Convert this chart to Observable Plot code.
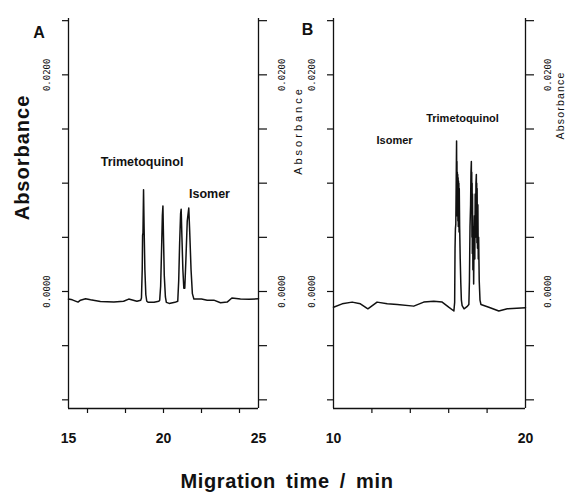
<!DOCTYPE html>
<html>
<head>
<meta charset="utf-8">
<script src="https://cdn.jsdelivr.net/npm/d3@7"></script>
<script src="https://cdn.jsdelivr.net/npm/@observablehq/plot@0.6"></script>
<style>
  html, body { margin: 0; padding: 0; background: white; }
  #wrap { position: relative; width: 567px; height: 494px; overflow: hidden; font-family: "Liberation Sans", Arial, sans-serif; }
  #pA { position: absolute; left: 0; top: 0; }
  #pB { position: absolute; left: 300px; top: 0; }
  #xlab { position: absolute; left: 287px; top: 471px; transform: translateX(-50%); font-size: 20px; line-height: 20px; font-weight: bold; letter-spacing: 0.6px; word-spacing: 4px; white-space: nowrap; color: #111; }
</style>
</head>
<body>
<div id="wrap">
  <div id="pA"></div>
  <div id="pB"></div>
  <div id="xlab">Migration time / min</div>
</div>
<script>
// ---------- data ----------
const yDomain = [-0.0108, 0.0252];
const yTicks = [-0.01, -0.005, 0, 0.005, 0.01, 0.015, 0.02, 0.025];
const yLabelled = [0, 0.02];

// Panel A (migration time 15–25 min)
const xDomainA = [15, 25];
const xMinorA = [16, 18, 20, 22, 24];
const xLabelsA = [15, 20, 25];
const timeA = [15.0, 15.2, 15.5, 15.63, 15.9, 16.16, 16.68, 17.39, 17.9, 18.17, 18.6, 18.8,
  18.84, 18.88, 18.9, 18.92, 18.95, 18.98, 19.02, 19.07, 19.12, 19.2, 19.5, 19.75,
  19.8, 19.85, 19.9, 19.94, 19.97, 20.0, 20.04, 20.1, 20.15, 20.3, 20.6,
  20.75, 20.8, 20.85, 20.9, 20.93, 20.97, 21.02, 21.07, 21.12, 21.18, 21.25, 21.33, 21.38, 21.45, 21.52,
  21.6, 22.0, 22.3, 22.65, 23.0, 23.35, 23.6, 24.05, 24.5, 25.0];
const absA = [-0.0007, -0.00077, -0.00098, -0.0008, -0.00067, -0.00077, -0.00092, -0.00098, -0.0009, -0.0007, -0.0009, -0.0008,
  -0.0006, 0.0020, 0.0052, 0.0054, 0.0094, 0.0058, 0.0020, -0.0003, -0.0009, -0.0010, -0.0010, -0.0009,
  -0.0008, 0.0005, 0.0040, 0.0070, 0.0079, 0.0050, 0.0015, -0.0005, -0.0010, -0.0011, -0.0010,
  -0.0009, 0.0010, 0.0045, 0.0072, 0.0076, 0.0050, 0.0020, 0.0003, 0.0003, 0.0030, 0.0065, 0.0077, 0.0055, 0.0020, -0.0002,
  -0.0007, -0.0007, -0.0008, -0.0008, -0.00104, -0.00098, -0.0006, -0.0007, -0.00072, -0.00067];
const annotA = ["Trimetoquinol", "Isomer"];
const annotTimeA = [18.87, 22.42];
const annotAbsA = [0.0120, 0.0090];

// Panel B (migration time 10–20 min)
const xDomainB = [10, 20];
const xMinorB = [12, 14, 16, 18];
const xLabelsB = [10, 20];
const timeB = [10.0, 10.45, 10.97, 11.4, 11.79, 12.27, 12.8, 13.32, 14.18, 14.7, 15.22, 15.66, 16.0, 16.27,
  16.31, 16.33, 16.35, 16.37, 16.39, 16.41, 16.42, 16.43, 16.44, 16.45, 16.46, 16.47, 16.48, 16.49, 16.5,
  16.51, 16.52, 16.53, 16.54, 16.55, 16.57, 16.6, 16.63, 16.66, 16.7, 16.8, 16.95, 17.05,
  17.08, 17.11, 17.14, 17.16, 17.18, 17.19, 17.2, 17.21, 17.22, 17.23, 17.24, 17.26, 17.28, 17.3, 17.32,
  17.34, 17.36, 17.38, 17.4, 17.42, 17.44, 17.45, 17.46, 17.47, 17.48, 17.5, 17.52, 17.54, 17.56, 17.59,
  17.63, 17.68, 18.09, 18.61, 19.05, 20.0];
const absB = [-0.00145, -0.00114, -0.00098, -0.00114, -0.0016, -0.00098, -0.00114, -0.0012, -0.00135, -0.00098, -0.00089, -0.00098, -0.00145, -0.0018,
  -0.0010, 0.0040, 0.0058, 0.0062, 0.0100, 0.0139, 0.0090, 0.0120, 0.0070, 0.0110, 0.0075, 0.0108, 0.0065, 0.0105, 0.0060,
  0.0102, 0.0070, 0.0100, 0.0055, 0.0095, 0.0060, 0.0030, 0.0008, -0.0008, -0.0013, -0.0016, -0.0014, -0.0012,
  0.0010, 0.0060, 0.0080, 0.0110, 0.0120, 0.0075, 0.0110, 0.0050, 0.0100, 0.0035, 0.0090, 0.0020, 0.0060, 0.0007, 0.0050,
  0.0070, 0.0030, 0.0090, 0.0050, 0.0100, 0.0108, 0.0060, 0.0100, 0.0045, 0.0095, 0.0040, 0.0080, 0.0030, 0.0050, 0.0010,
  -0.0008, -0.0012, -0.00145, -0.0018, -0.0016, -0.0015];
const annotB = ["Trimetoquinol", "Isomer"];
const annotTimeB = [16.72, 13.18];
const annotAbsB = [0.0160, 0.0139];

const yAxisTitle = "Absorbance";

// ---------- drawing ----------
const seriesA = timeA.map((t, i) => ({t, a: absA[i]}));
const seriesB = timeB.map((t, i) => ({t, a: absB[i]}));
const labA = annotA.map((s, i) => ({s, t: annotTimeA[i], a: annotAbsA[i]}));
const labB = annotB.map((s, i) => ({s, t: annotTimeB[i], a: annotAbsB[i]}));

const fmtY = d => yLabelled.some(v => Math.abs(v - d) < 1e-9) ? d3.format(".4f")(d) : "";
const mono = "'DejaVu Sans Mono', 'Liberation Mono', monospace";
const sans = "'Liberation Sans', Arial, sans-serif";

function panel({width, marginLeft, xDomain, xMinor, xLabels, series, labels, letter, letterDx, letterDy,
                 annotSize, rightPad, rightTitleDx, rightTitleDy, rightTitleSize, bigTitle}) {
  const marks = [
    Plot.ruleX(xDomain, {stroke: "#111", strokeWidth: 1.3}),
    Plot.ruleY([yDomain[0]], {stroke: "#111", strokeWidth: 1.3}),
    Plot.axisY(yTicks, {anchor: "left", label: null, tickSize: 6, tickPadding: 15, tickRotate: -90,
      lineAnchor: "middle", tickFormat: fmtY, fontFamily: mono, fontSize: 9, strokeWidth: 1.2}),
    Plot.axisY(yTicks, {anchor: "right", label: null, tickSize: 8, tickPadding: rightPad, tickRotate: -90,
      lineAnchor: "middle", tickFormat: fmtY, fontFamily: mono, fontSize: 9, strokeWidth: 1.2}),
    Plot.axisX(xMinor, {anchor: "bottom", label: null, tickSize: 5, tickFormat: () => "", strokeWidth: 1.2}),
    Plot.axisX(xLabels, {anchor: "bottom", label: null, tickSize: 0, tickPadding: 25,
      fontWeight: "bold", fontSize: 14, fontFamily: sans}),
    Plot.line(series, {x: "t", y: "a", stroke: "#111", strokeWidth: 1.5}),
    Plot.text(labels, {x: "t", y: "a", text: "s", fontWeight: "bold", fontSize: annotSize, fontFamily: sans, fill: "#111"}),
    Plot.text([letter], {frameAnchor: "top-left", dx: letterDx, dy: letterDy, textAnchor: "middle", lineAnchor: "bottom",
      fontSize: 16, fontWeight: "bold", fontFamily: sans, fill: "#111"}),
    Plot.text([yAxisTitle], {frameAnchor: "right", dx: rightTitleDx, dy: rightTitleDy, rotate: -90,
      textAnchor: "middle", lineAnchor: "middle",
      fontSize: rightTitleSize, fontFamily: sans, fill: "#111"})
  ];
  if (bigTitle) {
    marks.push(Plot.text([yAxisTitle], {frameAnchor: "left", dx: -46, dy: -56, rotate: -90,
      textAnchor: "middle", lineAnchor: "middle",
      fontSize: 20, fontWeight: "bold", fontFamily: sans, fill: "#111"}));
  }
  return Plot.plot({
    width, height: 460,
    marginLeft, marginRight: 42, marginTop: 18, marginBottom: 52,
    x: {domain: xDomain},
    y: {domain: yDomain},
    style: {fontFamily: sans, background: "transparent", overflow: "visible", color: "#111"},
    marks
  });
}

const svgA = panel({width: 300, marginLeft: 68, xDomain: xDomainA, xMinor: xMinorA, xLabels: xLabelsA,
  series: seriesA, labels: labA, letter: "A", letterDx: -29.5, letterDy: 19, annotSize: 12.5,
  rightPad: 16, rightTitleDx: 40, rightTitleDy: -83, rightTitleSize: 11, bigTitle: true});
const svgB = panel({width: 267, marginLeft: 33, xDomain: xDomainB, xMinor: xMinorB, xLabels: xLabelsB,
  series: seriesB, labels: labB, letter: "B", letterDx: -26, letterDy: 16, annotSize: 11,
  rightPad: 15, rightTitleDx: 35, rightTitleDy: -108, rightTitleSize: 10.5, bigTitle: false});

// letter spacing for the axis titles
function spaceTitles(svg, bigSpacing, smallSpacing) {
  svg.querySelectorAll("text").forEach(t => {
    if (t.textContent === yAxisTitle) {
      const g = t.closest("g[font-size]");
      const fs = g ? parseFloat(g.getAttribute("font-size")) : 10;
      t.style.letterSpacing = fs >= 18 ? bigSpacing : smallSpacing;
    }
  });
}
spaceTitles(svgA, "1px", "3px");
spaceTitles(svgB, "1px", "1.2px");
document.getElementById("pA").appendChild(svgA);
document.getElementById("pB").appendChild(svgB);
</script>
</body>
</html>
